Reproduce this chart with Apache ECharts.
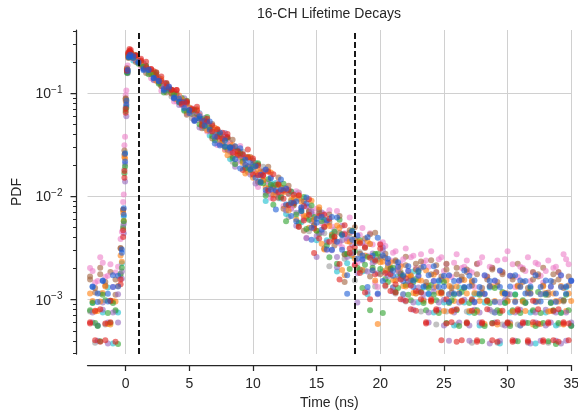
<!DOCTYPE html>
<html>
<head>
<meta charset="utf-8">
<script src="https://cdn.jsdelivr.net/npm/echarts@6/dist/echarts.min.js"></script>
<style>
  html, body { margin: 0; padding: 0; background: #fff; }
  #chart { width: 578px; height: 410px; }
</style>
</head>
<body>
<div id="chart"></div>
<script>
// bin centres (ns); odd and even channels are read out on grids offset by 0.2 ns
const binTimesA = [-2.8,-2.4,-2.0,-1.6,-1.2,-0.8,-0.4,-0.2,-0.1,0,0.1,0.2,0.3,
  0.4,0.8,1.2,1.6,2.0,2.4,2.8,3.2,3.6,4.0,4.4,4.8,5.2,5.6,6.0,6.4,6.8,7.2,7.6,8.0,
  8.4,8.8,9.2,9.6,10.0,10.4,10.8,11.2,11.6,12.0,12.4,12.8,13.2,13.6,14.0,14.4,14.8,15.2,15.6,16.0,
  16.4,16.8,17.2,17.6,18.0,18.4,18.8,19.2,19.6,20.0,
  20.4,20.8,21.2,21.6,22.0,22.4,22.8,23.2,23.6,24.0,24.4,24.8,25.2,25.6,26.0,26.4,26.8,27.2,27.6,28.0,
  28.4,28.8,29.2,29.6,30.0,30.4,30.8,31.2,31.6,32.0,32.4,32.8,33.2,33.6,34.0,34.4,34.8]
const binTimesB = [-2.6,-2.2,-1.8,-1.4,-1.0,-0.6,-0.3,-0.15,-0.05,0.05,0.15,0.25,0.35,
  0.6,1.0,1.4,1.8,2.2,2.6,3.0,3.4,3.8,4.2,4.6,5.0,5.4,5.8,6.2,6.6,7.0,7.4,7.8,8.2,
  8.6,9.0,9.4,9.8,10.2,10.6,11.0,11.4,11.8,12.2,12.6,13.0,13.4,13.8,14.2,14.6,15.0,15.4,15.8,16.2,
  16.6,17.0,17.4,17.8,18.2,18.6,19.0,19.4,19.8,20.2,
  20.6,21.0,21.4,21.8,22.2,22.6,23.0,23.4,23.8,24.2,24.6,25.0,25.4,25.8,26.2,26.6,27.0,27.4,27.8,28.2,
  28.6,29.0,29.4,29.8,30.2,30.6,31.0,31.4,31.8,32.2,32.6,33.0,33.4,33.8,34.2,34.6,35.0]

// photon counts per bin, one array per channel
const ch01 = [4,2,6,3,5,4,9,27,95,380,840,1190,1270,1264,1084,1035,956,800,700,660,652,485,493,423,412,298,322,263,271,223,229,163,168,113,144,141,99,97,71,101,68,68,50,63,33,48,57,32,24,31,37,23,11,25,19,13,21,8,15,10,18,7,13,7,10,6,9,5,8,6,4,7,5,3,6,4,7,3,5,4,2,6,3,5,4,2,3,6,4,3,5,2,4,3,6,2,4,3,5,1]
const ch02 = [5,3,4,7,2,4,12,34,140,460,900,1210,1265,1107,1104,927,856,724,747,601,575,471,450,368,385,319,341,245,207,224,190,194,123,144,119,125,87,112,75,48,72,72,51,36,48,57,30,33,36,20,35,20,23,10,23,12,14,19,10,6,13,13,10,11,7,9,6,8,10,5,7,6,4,8,5,6,3,7,5,4,6,3,5,7,4,2,5,4,6,3,5,4,2,6,4,5,3,4,7,3]
const ch03 = [11,8,14,9,12,10,21,48,170,520,950,1200,1240,1198,1126,982,926,760,723,574,600,562,451,421,346,388,300,286,232,245,171,194,204,142,118,128,132,97,67,94,76,60,74,44,58,45,58,33,43,36,24,37,40,24,19,24,34,12,23,18,24,8,19,18,13,16,12,17,14,11,15,13,16,10,14,12,9,15,11,13,10,12,14,9,11,13,10,16,12,9,11,14,10,12,8,13,11,10,15,12]
const ch04 = [3,2,4,3,1,3,8,22,70,300,780,1170,1260,1162,1018,974,858,818,631,632,546,524,423,447,348,271,305,288,231,183,195,206,140,137,136,95,120,84,88,54,77,52,51,60,38,26,39,40,29,13,35,18,21,13,26,13,17,9,12,6,14,9,16,9,6,8,5,7,4,6,5,3,6,4,5,2,4,3,5,2,4,3,1,4,3,2,5,3,2,4,3,1,3,2,4,3,2,5,2,3]
const ch05 = [9,7,11,8,10,6,17,40,150,480,920,1190,1250,1247,1080,1025,846,825,798,631,548,532,513,419,332,365,310,262,276,196,213,175,195,132,147,127,93,110,110,77,64,68,82,41,57,44,51,25,39,28,37,27,36,18,24,8,24,27,15,17,9,24,14,15,11,13,10,14,9,12,11,8,13,10,9,12,7,11,9,10,8,12,7,9,11,8,10,6,9,12,8,7,10,9,11,6,8,10,7,9]
const ch06 = [5,4,6,3,5,7,12,30,120,420,870,1200,1268,1225,1056,910,866,841,663,621,582,468,490,394,375,285,319,247,233,239,178,145,164,156,125,86,124,85,88,63,88,57,63,42,48,31,46,33,47,24,18,28,22,27,10,19,14,19,10,19,10,3,12,11,8,10,7,9,6,8,5,7,9,6,4,7,5,6,8,4,6,5,3,7,5,4,6,3,5,7,4,6,5,3,6,4,5,7,4,5]
const ch07 = [4,3,2,5,3,4,9,25,85,340,800,1180,1275,1241,1175,974,932,808,799,631,621,544,447,454,428,338,291,284,297,195,217,180,185,119,142,110,122,97,106,68,74,42,66,67,42,43,28,50,30,32,22,30,13,23,30,14,10,15,19,11,4,14,10,8,10,6,9,7,5,8,6,4,7,5,6,3,5,4,6,3,5,4,2,5,3,4,6,3,4,2,5,3,4,6,3,2,4,3,5,4]
const ch08 = [10,8,12,9,7,11,24,55,200,560,980,1215,1248,1141,1039,979,824,704,698,645,550,439,488,387,367,298,336,252,253,197,195,152,175,139,162,107,86,103,87,94,51,68,55,62,41,59,36,21,39,40,29,16,27,38,17,20,24,12,26,14,18,7,19,12,15,11,13,10,14,9,12,11,8,13,10,9,12,8,11,10,7,12,9,11,8,10,13,9,7,11,10,8,12,9,10,7,11,9,13,8]
const ch09 = [8,6,9,7,5,8,16,38,130,450,890,1195,1262,1261,1193,964,929,811,774,601,609,512,504,428,420,322,318,234,269,257,194,185,144,181,131,129,100,114,71,89,99,62,50,59,65,44,26,46,36,27,38,16,29,21,33,14,24,20,10,20,22,12,9,13,10,12,9,11,8,10,12,7,9,11,8,10,6,9,8,10,7,9,6,8,10,7,9,5,8,7,10,6,8,9,7,6,9,8,5,7]
const ch10 = [4,3,5,2,4,6,10,29,110,400,860,1205,1258,1158,1077,918,853,717,720,611,618,477,409,418,360,357,248,268,228,228,171,200,144,103,133,129,97,71,86,96,56,59,61,39,59,37,40,21,38,22,24,30,16,11,20,21,15,5,19,10,12,6,16,9,7,10,6,8,5,7,6,4,7,5,3,6,4,5,7,3,5,4,6,2,4,5,3,6,4,3,5,2,4,6,3,5,4,2,4,3]
const ch11 = [6,4,5,7,3,5,14,36,125,440,880,1185,1262,1181,1148,1055,891,816,687,717,582,543,455,456,345,362,365,268,228,232,234,179,131,164,136,110,126,79,95,75,92,54,67,57,38,51,53,34,26,31,41,16,27,20,26,9,19,13,19,14,18,8,12,10,12,8,11,7,9,6,8,10,5,7,6,8,4,7,5,6,8,4,6,5,7,3,6,5,4,7,5,6,3,5,7,4,6,5,3,6]
const ch12 = [5,3,6,4,5,2,11,31,105,390,850,1195,1255,1185,1041,971,821,822,666,547,569,529,439,363,365,372,269,259,251,188,217,162,161,111,141,101,97,107,73,55,70,70,53,31,60,36,39,26,44,25,31,18,22,12,23,15,25,11,7,14,11,15,4,8,11,7,9,6,8,10,5,7,6,4,8,5,6,3,7,5,4,6,3,5,7,4,5,3,6,4,5,7,3,4,6,5,2,4,6,3]
const ch13 = [3,2,4,2,3,1,7,20,75,320,820,1230,1330,1298,1143,1068,997,848,700,719,621,534,533,410,415,351,366,269,280,241,188,205,199,147,124,127,141,81,99,80,86,47,65,47,57,43,51,29,33,14,32,33,18,20,11,26,14,16,9,16,5,12,17,9,6,7,5,8,4,6,5,3,5,4,2,5,3,4,2,3,5,2,3,4,2,3,1,3,2,4,3,2,3,4,2,3,2,4,3,2]
const ch14 = [7,5,8,6,7,9,15,35,115,410,860,1180,1238,1162,1069,902,885,741,695,559,581,471,436,431,339,283,300,282,233,172,219,161,158,121,154,107,112,80,85,61,79,60,77,44,34,47,38,45,20,32,25,31,16,33,16,6,20,22,13,7,14,21,8,12,9,11,8,10,7,9,11,6,8,7,9,5,8,6,7,9,5,7,6,8,5,7,6,9,5,7,8,6,5,7,6,8,5,7,6,8]
const ch15 = [3,4,2,3,5,2,8,24,90,360,850,1240,1320,1268,1194,1058,907,876,816,669,584,553,550,403,413,353,348,248,271,218,228,186,192,136,140,92,121,119,82,81,58,84,56,58,42,53,26,41,48,25,20,26,31,19,8,22,16,11,18,6,13,9,16,7,9,6,8,5,7,4,6,3,5,4,6,3,4,2,5,3,4,2,3,5,3,2,4,3,2,4,3,2,5,3,2,3,4,2,3,3]
const ch16 = [7,6,8,5,9,7,16,40,135,440,880,1175,1230,1186,1033,868,880,730,682,572,601,475,460,374,359,287,312,254,278,197,162,182,154,160,97,118,96,102,72,95,61,39,61,62,45,30,41,51,26,29,33,16,33,19,22,9,24,13,14,21,10,6,14,13,10,12,9,11,8,10,7,9,11,8,7,9,6,8,10,7,8,6,9,7,8,10,6,7,9,8,6,7,9,5,8,7,6,9,7,8]

const channelCounts = [ch01, ch02, ch03, ch04, ch05, ch06, ch07, ch08, ch09, ch10, ch11, ch12, ch13, ch14, ch15, ch16]
const channelGrid = [0, 1, 0, 1, 0, 1, 0, 1, 0, 1, 0, 1, 0, 1, 0, 1]
// PDF value of one count, per channel
const channelNorm = [1.92e-4, 1.88e-4, 1.84e-4, 2.0e-4, 1.86e-4, 1.94e-4, 1.98e-4, 1.9e-4,
  1.96e-4, 1.88e-4, 1.92e-4, 1.86e-4, 2.02e-4, 1.9e-4, 1.96e-4, 1.92e-4]
const channelColors = ['#999999', '#17becf', '#ec7ec8', '#9467bd', '#a0603c', '#ff7f0e', '#2ca02c', '#ec7ec8',
  '#a0603c', '#9467bd', '#ff7f0e', '#2ca02c', '#e0201c', '#1c5ed6', '#e0201c', '#1c5ed6']

const xTicks = [0, 5, 10, 15, 20, 25, 30, 35]
const yTicks = [1e-3, 1e-2, 1e-1]
const yMinorTicks = [3e-4, 4e-4, 5e-4, 6e-4, 7e-4, 8e-4, 9e-4,
  2e-3, 3e-3, 4e-3, 5e-3, 6e-3, 7e-3, 8e-3, 9e-3,
  2e-2, 3e-2, 4e-2, 5e-2, 6e-2, 7e-2, 8e-2, 9e-2,
  2e-1, 3e-1, 4e-1]
const cutLines = [1, 18]

const ink = '#262626'
const font = "'Liberation Sans', Arial, sans-serif"
const grids = [binTimesA, binTimesB]

const chart = echarts.init(document.getElementById('chart'), null, { renderer: 'canvas' })

const series = channelCounts.map((counts, c) => ({
  type: 'scatter',
  data: counts.map((n, i) => [grids[channelGrid[c]][i], n * channelNorm[c]]),
  symbolSize: 6,
  itemStyle: { color: channelColors[c], opacity: 0.6 },
  silent: true
}))

// dashed window lines drawn over the points
series[series.length - 1].markLine = {
  silent: true,
  symbol: 'none',
  label: { show: false },
  lineStyle: { color: '#000', type: [6, 3], width: 1.8 },
  data: cutLines.map(v => ({ xAxis: v }))
}

const option = {
  animation: false,
  title: {
    text: '16-CH Lifetime Decays',
    left: 329, top: 7, padding: 0,
    textAlign: 'center',
    textStyle: { fontFamily: font, fontSize: 14, fontWeight: 'normal', color: ink }
  },
  grid: { left: 87.5, right: 6.8, top: 30, bottom: 56, containLabel: false, outerBoundsMode: 'none' },
  xAxis: {
    type: 'value', min: -3, max: 35, offset: 11,
    name: 'Time (ns)', nameLocation: 'middle', nameGap: 31,
    nameTextStyle: { fontFamily: font, fontSize: 14, color: ink },
    axisLine: { onZero: false, lineStyle: { color: ink, width: 1.25 } },
    axisTick: { customValues: xTicks, length: 6, lineStyle: { color: ink, width: 1.25 } },
    axisLabel: { customValues: xTicks, margin: 12, fontFamily: font, fontSize: 14, color: ink },
    splitLine: { show: true, lineStyle: { color: '#d0d0d0', width: 1 } }
  },
  yAxis: [{
    type: 'log', min: 2.98e-4, max: 0.41, offset: 11,
    name: 'PDF', nameLocation: 'middle', nameGap: 50, nameRotate: 90,
    nameTextStyle: { fontFamily: font, fontSize: 14, color: ink },
    axisLine: { show: true, onZero: false, lineStyle: { color: ink, width: 1.25 } },
    axisTick: { customValues: yTicks, length: 6, lineStyle: { color: ink, width: 1.25 } },
    axisLabel: {
      customValues: yTicks, margin: 14,
      formatter: v => '{b|10}{s|\u2212' + Math.round(-Math.log10(v)) + '}',
      rich: {
        b: { fontFamily: font, fontSize: 14, color: ink, lineHeight: 16, verticalAlign: 'bottom' },
        s: { fontFamily: font, fontSize: 10, color: ink, lineHeight: 16, verticalAlign: 'top' }
      }
    },
    splitLine: { show: true, lineStyle: { color: '#d0d0d0', width: 1 } }
  }, {
    // minor ticks only
    type: 'log', min: 2.98e-4, max: 0.41, offset: 11, position: 'left',
    axisLine: { show: false, onZero: false },
    axisTick: { customValues: yMinorTicks, length: 3.5, lineStyle: { color: ink, width: 1 } },
    axisLabel: { show: false },
    splitLine: { show: false }
  }],
  series
}

chart.setOption(option)
</script>
</body>
</html>
